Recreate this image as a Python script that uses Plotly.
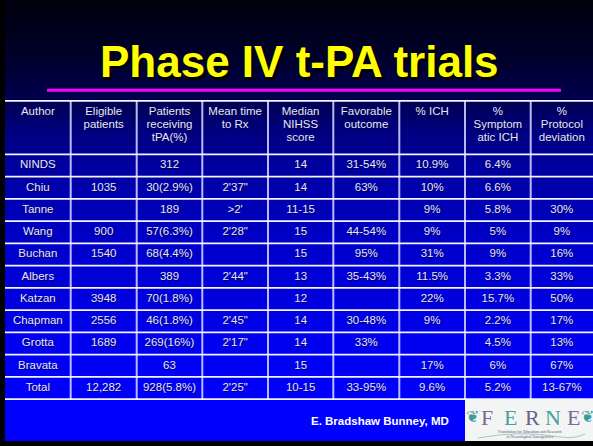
import plotly.graph_objects as go

# ---------------- data ----------------
title = "Phase IV t-PA trials"
headers = ["Author", "Eligible<br>patients", "Patients<br>receiving<br>tPA(%)",
           "Mean time<br>to Rx", "Median<br>NIHSS<br>score", "Favorable<br>outcome",
           "% ICH", "%<br>Symptom<br>atic ICH", "%<br>Protocol<br>deviation"]
author = ["NINDS", "Chiu", "Tanne", "Wang", "Buchan", "Albers", "Katzan",
          "Chapman", "Grotta", "Bravata", "Total"]
eligible = ["", "1035", "", "900", "1540", "", "3948", "2556", "1689", "", "12,282"]
receiving = ["312", "30(2.9%)", "189", "57(6.3%)", "68(4.4%)", "389", "70(1.8%)",
             "46(1.8%)", "269(16%)", "63", "928(5.8%)"]
mean_time = ["", "2'37\"", ">2'", "2'28\"", "", "2'44\"", "", "2'45\"", "2'17\"", "", "2'25\""]
nihss = ["14", "14", "11-15", "15", "15", "13", "12", "14", "14", "15", "10-15"]
favorable = ["31-54%", "63%", "", "44-54%", "95%", "35-43%", "", "30-48%", "33%", "", "33-95%"]
ich = ["10.9%", "10%", "9%", "9%", "31%", "11.5%", "22%", "9%", "", "17%", "9.6%"]
sym_ich = ["6.4%", "6.6%", "5.8%", "5%", "9%", "3.3%", "15.7%", "2.2%", "4.5%", "6%", "5.2%"]
protocol = ["", "", "30%", "9%", "16%", "33%", "50%", "17%", "13%", "67%", "13-67%"]
footer = "E. Bradshaw Bunney, MD"
logo_word = "FERNE"
logo_sub = "Foundation for Education and Research<br>in Neurological Emergencies"

columns = [author, eligible, receiving, mean_time, nihss, favorable, ich, sym_ich, protocol]

# ---------------- layout / styling ----------------
W, H = 593, 446
LEFT, BOTTOM = 5, 441
FONT = "Liberation Sans, Arial, sans-serif"
TXT = "#e6e6ff"

col_widths = [65.7, 66, 65.6, 65.7, 65.3, 66, 65.7, 65.7, 62.3]
table_top = 100.8
header_h = 53.5
row_h = 22.25
head_line_gap = 13
head_first = 112.3

col_edges = [LEFT]
for w in col_widths:
    col_edges.append(col_edges[-1] + w)
col_centers = [(a + b) / 2 for a, b in zip(col_edges[:-1], col_edges[1:])]
n_rows = len(author)
row_edges = [table_top, table_top + header_h]
for i in range(n_rows):
    row_edges.append(row_edges[-1] + row_h)
row_centers = [(a + b) / 2 for a, b in zip(row_edges[1:-1], row_edges[2:])]
table_bottom = row_edges[-1]

# background gradient stops (y pixel, blue level)
grad_stops = [(0, 12), (60, 45), (100, 80), (130, 125), (165, 160), (250, 205),
              (330, 235), (400, 255), (446, 255)]


def blue_at(y):
    for (y0, b0), (y1, b1) in zip(grad_stops[:-1], grad_stops[1:]):
        if y0 <= y <= y1:
            return b0 + (b1 - b0) * (y - y0) / (y1 - y0)
    return 255


shapes = []
step = 2
y = 0
while y < BOTTOM:
    b = int(round(blue_at(y + step / 2)))
    shapes.append(dict(type="rect", xref="x", yref="y", x0=LEFT, x1=W, y0=y,
                       y1=min(y + step + 0.5, BOTTOM),
                       fillcolor=f"rgb(0,0,{b})", line=dict(width=0), layer="below"))
    y += step

# magenta rule under title
shapes.append(dict(type="line", xref="x", yref="y", x0=47, x1=561, y0=90.3, y1=90.3,
                   line=dict(color="#ff00ff", width=3)))

# table grid: vertical lines (lavender), horizontal lines (white)
for xe in col_edges[1:-1]:
    shapes.append(dict(type="line", xref="x", yref="y", x0=xe, x1=xe, y0=table_top, y1=table_bottom,
                       line=dict(color="rgba(205,205,255,0.9)", width=2)))
for ye in row_edges:
    shapes.append(dict(type="line", xref="x", yref="y", x0=LEFT, x1=W, y0=ye, y1=ye,
                       line=dict(color="#f4f4ff", width=1.8)))

# logo box
shapes.append(dict(type="rect", xref="x", yref="y", x0=465, x1=W, y0=table_bottom + 1, y1=BOTTOM,
                   fillcolor="#f3f5f5", line=dict(width=0)))
# logo swash
shapes.append(dict(type="path", xref="x", yref="y",
                   path="M 478 438 Q 520 430 560 437 Q 575 439 585 434",
                   line=dict(color="#9cc9c9", width=1)))

# text positions
cell_x, cell_y, cell_t = [], [], []
for ci, col in enumerate(columns):
    for ri, val in enumerate(col):
        if val:
            cell_x.append(col_centers[ci])
            cell_y.append(row_centers[ri])
            cell_t.append(val)
for ci, h in enumerate(headers):
    for li, line in enumerate(h.split("<br>")):
        cell_x.append(col_centers[ci])
        cell_y.append(head_first + li * head_line_gap)
        cell_t.append(line)

fig = go.Figure()
fig.add_trace(go.Scatter(x=cell_x, y=cell_y, text=cell_t, mode="text", textposition="middle center",
                         hoverinfo="skip",
                         textfont=dict(family=FONT, size=11.5, color=TXT,
                                       shadow="1px 1px 0px rgba(0,0,40,0.75)")))

annotations = [
    dict(x=299, y=61, text=f"<b>{title}</b>", showarrow=False, xref="x", yref="y",
         font=dict(family=FONT, size=44, color="#ffff00", shadow="2.5px 2.5px 0px #000000"),
         xanchor="center", yanchor="middle"),
    dict(x=380, y=421, text=f"<b>{footer}</b>", showarrow=False, xref="x", yref="y",
         font=dict(family=FONT, size=11.5, color="#ffffff"), xanchor="center", yanchor="middle"),
]

logo_x = [487, 510, 532, 553, 573]
logo_colors = ["#776c93", "#45a09d", "#6c5f8c", "#4a9f9c", "#776c93"]
for ch, lx, lc in zip(logo_word, logo_x, logo_colors):
    annotations.append(dict(x=lx, y=417, text=ch, showarrow=False, xref="x", yref="y",
                            font=dict(family="Liberation Serif, Times New Roman, serif", size=22, color=lc),
                            xanchor="center", yanchor="middle"))
annotations.append(dict(x=530, y=433.5, text=logo_sub, showarrow=False, xref="x", yref="y",
                        font=dict(family="Liberation Serif, serif", size=4, color="#555566"),
                        xanchor="center", yanchor="middle"))
for lx in (472, 587):
    annotations.append(dict(x=lx, y=416, text="❦", showarrow=False, xref="x", yref="y",
                            font=dict(family="DejaVu Sans", size=16, color="#3f9a9a"),
                            xanchor="center", yanchor="middle"))

fig.update_layout(
    width=W, height=H,
    margin=dict(l=0, r=0, t=0, b=0),
    paper_bgcolor="#000000", plot_bgcolor="#000000",
    xaxis=dict(range=[0, W], visible=False, fixedrange=True),
    yaxis=dict(range=[H, 0], visible=False, fixedrange=True),
    shapes=shapes,
    annotations=annotations,
    showlegend=False,
)

fig.write_html("out.html", config={"displayModeBar": False, "staticPlot": True},
               post_script="document.body.style.margin='0';document.body.style.overflow='hidden';")
